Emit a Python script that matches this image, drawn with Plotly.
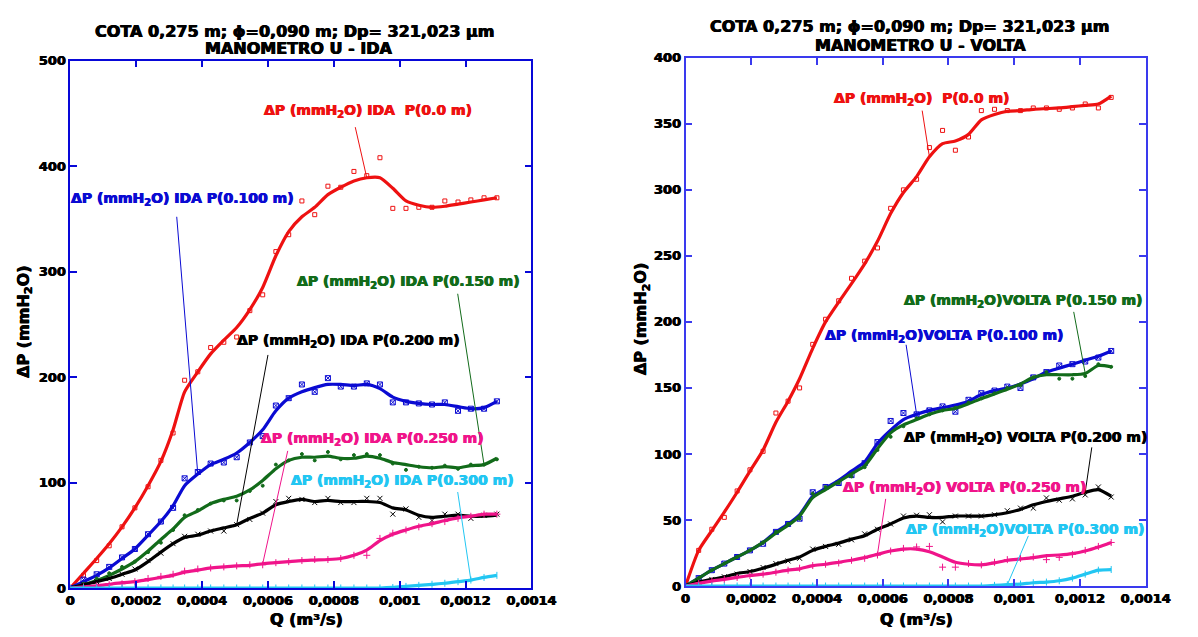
import plotly.graph_objects as go

# Flow rate Q (m³/s) at each reading
Q = [0, 0.00004, 0.00008, 0.000118, 0.000157, 0.000196, 0.000236, 0.000275, 0.000312, 0.000347,
     0.000387, 0.000426, 0.000466, 0.000505, 0.000545, 0.000584, 0.000624, 0.000663, 0.000703, 0.000742,
     0.000782, 0.000821, 0.000861, 0.0009, 0.00094, 0.000979, 0.001019, 0.001058, 0.001098, 0.001137,
     0.001177, 0.001216, 0.001256, 0.001295]

# ---- IDA (increasing flow): measured points and smoothed curves, ΔP in mmH2O ----
ida_p000_pts = [0, 12, 26, 40, 58, 76, 96, 121, 147, 197, 205, 228, 233, 238, 263, 278, 319, 335, 367, 354,
                381, 380, 395, 391, 408, 360, 360, 361, 361, 367, 366, 368, 370, 370]
ida_p000_fit = [0, 14, 28, 42, 58, 76, 97, 120, 150, 186, 205, 222, 235, 247, 264, 285, 315, 338, 352, 361,
                373, 380, 386, 389, 389, 379, 367, 363, 361, 362, 364, 366, 368, 370]
ida_p100_pts = [0, 8, 13, 20, 29, 37, 51, 63, 76, 104, 110, 118, 119, 124, 138, 144, 173, 180, 193, 186,
                199, 191, 191, 194, 193, 176, 176, 175, 174, 176, 168, 170, 170, 177]
ida_p100_fit = [0, 6, 12, 19, 28, 37, 50, 63, 78, 97, 108, 117, 122, 128, 138, 150, 168, 180, 186, 190,
                193, 193, 192, 193, 189, 181, 177, 175, 174, 174, 172, 170, 171, 177]
ida_p150_pts = [0, 4, 9, 14, 20, 25, 34, 43, 55, 69, 74, 80, 83, 83, 92, 97, 117, 121, 127, 121,
                129, 122, 126, 127, 126, 118, 112, 115, 114, 116, 113, 117, 117, 122]
ida_p150_fit = [0, 3, 7, 12, 18, 25, 35, 46, 56, 67, 73, 80, 84, 87, 93, 102, 113, 121, 124, 124,
                125, 123, 123, 125, 123, 119, 117, 115, 114, 115, 114, 116, 117, 123]
ida_p200_pts = [0, 3, 6, 9, 13, 18, 26, 33, 42, 49, 51, 54, 54, 60, 65, 71, 82, 85, 84, 81,
                85, 81, 81, 85, 85, 70, 75, 67, 64, 70, 70, 66, 69, 70]
ida_p200_fit = [0, 3, 6, 9, 13, 17, 25, 34, 42, 48, 50, 54, 57, 60, 66, 71, 79, 82, 84, 82,
                83, 82, 82, 82, 81, 76, 74, 69, 67, 68, 69, 68, 68, 69]
ida_p250_pts = [0, 1, 2, 3, 4, 6, 9, 11, 13, 16, 18, 19, 20, 21, 22, 22, 24, 25, 26, 27,
                27, 28, 31, 31, 47, 52, 55, 58, 61, 63, 66, 68, 70, 70]
ida_p250_fit = [0, 1, 2, 3.5, 5, 6, 8, 10, 12, 15, 17, 19, 20, 21, 21.5, 23, 24, 25, 26, 26.5,
                27, 28, 31, 36, 45, 51, 55, 58.5, 61, 64, 66.5, 68, 70, 70]
ida_p300_pts = [0, 0, 0, 0, 0, 0, 0, 0, 0, 0, 0, 0, 0, 0, 0, 0, 0, 0, 0, 0,
                0, 0, 0, 0, 0, 0.5, 1.5, 2.5, 3.5, 4.5, 6, 7.5, 10, 12]
ida_p300_fit = [0, 0, 0, 0, 0, 0, 0, 0, 0, 0, 0, 0, 0, 0, 0, 0, 0, 0, 0, 0,
                0, 0, 0, 0, 0, 0.5, 1.5, 2.5, 3.5, 4.5, 6, 7.5, 10, 12]

# ---- VOLTA (decreasing flow) ----
vol_p000_pts = [0, 27, 43, 52, 72, 88, 102, 131, 140, 150, 183, 202, 216, 233, 246, 256, 286, 300, 308, 332,
                345, 330, 340, 360, 361, 360, 360, 362, 362, 361, 362, 365, 362, 370]
vol_p000_fit = [0, 27, 42, 56, 71, 87, 103, 124, 140, 157, 180, 200, 215, 229, 244, 261, 282, 298, 310, 325,
                335, 337, 342, 353, 357, 359.5, 360, 361, 361.5, 362, 363, 364, 365, 371]
vol_p100_pts = [0, 6, 12, 17, 22, 27, 32, 41, 47, 51, 71, 75, 78, 84, 93, 109, 125, 131, 130, 133,
                136, 132, 141, 146, 148, 151, 150, 158, 162, 167, 168, 170, 173, 178]
vol_p100_fit = [0, 6, 12, 17, 22, 27, 33, 41, 47, 54, 68, 74, 80, 87, 94, 108, 118, 126, 130, 133,
                135, 137, 140, 145, 148, 150, 153, 157, 162, 165, 168, 171, 174, 178]
vol_p150_pts = [0, 6, 12, 17, 22, 27, 33, 41, 47, 51, 70, 75, 78, 83, 90, 103, 113, 121, 127, 130,
                133, 135, 139, 142, 146, 150, 152, 158, 162, 157, 157, 159, 168, 166]
vol_p150_fit = [0, 6, 12, 17, 22, 27, 33, 40, 46, 53, 67, 73, 79, 85, 91, 104, 116, 122, 126, 130,
                133, 134.5, 138, 142, 145.5, 149, 153, 158, 160, 160, 160, 161, 167, 166]
vol_p200_pts = [0, 3, 5, 7, 9, 11, 14, 17, 19, 21, 28, 30, 31.6, 35, 39.5, 43, 47, 53, 53.6, 54,
                48.6, 53, 53, 53, 54, 57, 59, 59, 66.7, 65, 66, 69, 75, 67.4]
vol_p200_fit = [0, 3, 5, 7, 9.5, 11, 13.5, 16.5, 19.5, 22, 27, 30, 32.5, 35.5, 38, 43, 47, 51.5, 53, 52,
                52, 53, 53, 53, 54, 55.5, 58, 61.5, 64, 66, 68, 71, 73, 68]
vol_p250_pts = [0, 2, 3.7, 5, 6.5, 8, 9, 10.5, 12, 13.5, 15.5, 16.5, 17.5, 19.5, 21, 23.5, 26.5, 28.5, 29.6, 30,
                14.3, 14.3, 17, 16, 18, 20, 21, 22, 20, 21.7, 24, 27, 30, 33]
vol_p250_fit = [0, 2, 3.7, 5, 6.5, 8, 9, 10.5, 12, 13, 15.5, 16.5, 18, 19.5, 21.5, 24, 26.5, 28, 28, 26,
                22, 18, 16.5, 16, 17.5, 19.5, 20.5, 21.5, 23, 23.5, 24.5, 26.5, 29.5, 33]
vol_p300_pts = [0, 0, 0, 0, 0, 0, 0, 0, 0, 0, 0, 0, 0, 0, 0, 0, 0, 0, 0, 0,
                0, 0, 0, 0, 0.5, 1, 1.5, 2.5, 3, 4, 6, 9, 12, 12.5]
vol_p300_fit = [0, 0, 0, 0, 0, 0, 0, 0, 0, 0, 0, 0, 0, 0, 0, 0, 0, 0, 0, 0,
                0, 0, 0, 0, 0.5, 1, 1.5, 2.5, 3, 4, 6, 9, 12, 12.5]

x_tickvals = [0, 0.0002, 0.0004, 0.0006, 0.0008, 0.001, 0.0012, 0.0014]
x_ticktext = ["0", "0,0002", "0,0004", "0,0006", "0,0008", "0,001", "0,0012", "0,0014"]

RED, BLUE, GREEN, BLACK, PINK, CYAN = "#ee1111", "#0a0ad2", "#126b1a", "#000000", "#f0148a", "#22c6f2"
FONT = "DejaVu Sans"
W, H = 1198, 637


def heavy(color):
    # thin same-coloured halo to thicken bold glyphs
    return f"0.45px 0 0 {color}, -0.45px 0 0 {color}"


fig = go.Figure()


def add_series(pts, fit, color, symbol, msize, xa, ya):
    fig.add_trace(go.Scatter(x=Q, y=pts, mode="markers", xaxis=xa, yaxis=ya,
                             marker=dict(symbol=symbol, size=msize, color=color,
                                         line=dict(color=color, width=1))))
    fig.add_trace(go.Scatter(x=Q, y=fit, mode="lines", xaxis=xa, yaxis=ya,
                             line=dict(color=color, width=3.2, shape="spline", smoothing=0.6)))


left = [(ida_p000_pts, ida_p000_fit, RED, "square-open", 4),
        (ida_p100_pts, ida_p100_fit, BLUE, "square-x-open", 5),
        (ida_p150_pts, ida_p150_fit, GREEN, "circle", 3),
        (ida_p200_pts, ida_p200_fit, BLACK, "x-thin-open", 5),
        (ida_p250_pts, ida_p250_fit, PINK, "cross-thin-open", 5),
        (ida_p300_pts, ida_p300_fit, CYAN, "line-ns-open", 5)]
right = [(vol_p000_pts, vol_p000_fit, RED, "square-open", 4),
         (vol_p100_pts, vol_p100_fit, BLUE, "square-x-open", 5),
         (vol_p150_pts, vol_p150_fit, GREEN, "circle", 3),
         (vol_p200_pts, vol_p200_fit, BLACK, "x-thin-open", 5),
         (vol_p250_pts, vol_p250_fit, PINK, "cross-thin-open", 5),
         (vol_p300_pts, vol_p300_fit, CYAN, "line-ns-open", 5)]
for p, f, c, s, m in left:
    add_series(p, f, c, s, m, "x", "y")
for p, f, c, s, m in right:
    add_series(p, f, c, s, m, "x2", "y2")

annotations = []
shapes = []


def label(xa, ya, x, y, text, color):
    annotations.append(dict(xref=xa, yref=ya, x=x, y=y, text=text, showarrow=False,
                            xanchor="center", yanchor="middle",
                            font=dict(family=FONT, size=14, color=color, weight="bold",
                                      shadow=heavy(color))))


def leader(xa, ya, x0, y0, x1, y1, color):
    shapes.append(dict(type="line", xref=xa, yref=ya, x0=x0, y0=y0, x1=x1, y1=y1,
                       line=dict(color=color, width=1)))


H2O = "ΔP (mmH<sub>2</sub>O)"
# IDA labels and leader lines
label("x", "y", 0.000904, 452, H2O + " IDA&nbsp; P(0.0 m)", RED)
leader("x", "y", 0.000865, 437, Q[23], ida_p000_fit[23], RED)
label("x", "y", 0.00034, 369, H2O + " IDA P(0.100 m)", BLUE)
leader("x", "y", 0.000323, 352, Q[10], ida_p100_fit[10], BLUE)
label("x", "y", 0.001027, 290, H2O + " IDA P(0.150 m)", GREEN)
leader("x", "y", 0.001176, 279, Q[32], ida_p150_fit[32], GREEN)
label("x", "y", 0.000843, 234, H2O + " IDA P(0.200 m)", BLACK)
leader("x", "y", 0.0006, 221, Q[13], ida_p200_fit[13], BLACK)
label("x", "y", 0.000917, 141, H2O + " IDA P(0.250 m)", PINK)
leader("x", "y", 0.00066, 130, Q[15], ida_p250_fit[15], PINK)
label("x", "y", 0.001007, 101, H2O + " IDA P(0.300 m)", CYAN)
leader("x", "y", 0.001176, 91, Q[31], ida_p300_fit[31], CYAN)

# VOLTA labels and leader lines
label("x2", "y2", 0.000719, 369, H2O + "&nbsp; P(0.0 m)", RED)
leader("x2", "y2", 0.00072, 360, Q[19], vol_p000_fit[19], RED)
label("x2", "y2", 0.001026, 216, H2O + "VOLTA P(0.150 m)", GREEN)
leader("x2", "y2", 0.001181, 207.6, Q[31], vol_p150_fit[31], GREEN)
label("x2", "y2", 0.000785, 189, H2O + "VOLTA P(0.100 m)", BLUE)
leader("x2", "y2", 0.000671, 182.7, Q[18], vol_p100_fit[18], BLUE)
label("x2", "y2", 0.001033, 112, H2O + " VOLTA P(0.200 m)", BLACK)
leader("x2", "y2", 0.001236, 105, Q[31], vol_p200_fit[31], BLACK)
label("x2", "y2", 0.000849, 74, H2O + " VOLTA P(0.250 m)", PINK)
leader("x2", "y2", 0.000609, 66, Q[15], vol_p250_fit[15], PINK)
label("x2", "y2", 0.001033, 42.7, H2O + "VOLTA P(0.300 m)", CYAN)
leader("x2", "y2", 0.001043, 38, Q[25], vol_p300_fit[25], CYAN)


def paper_text(px, py, text, size, angle=0):
    annotations.append(dict(xref="paper", yref="paper", x=px / W, y=1 - py / H, text=text,
                            showarrow=False, xanchor="center", yanchor="middle", textangle=angle,
                            font=dict(family=FONT, size=size, color="black", weight="bold",
                                      shadow=heavy("black"))))


TITLE1 = "COTA 0,275 m; ϕ=0,090 m; Dp= 321,023 μm"
paper_text(297, 25, TITLE1, 16)
paper_text(302, 42, "MANOMETRO U - IDA", 16)
paper_text(928, 20, TITLE1, 16)
paper_text(939, 39, "MANOMETRO U - VOLTA", 16)
paper_text(309, 627, "Q (m³/s)", 16)
paper_text(935, 627, "Q (m³/s)", 16)
paper_text(20, 322, "ΔP (mmH<sub>2</sub>O)", 16, -90)
paper_text(653, 320, "ΔP (mmH<sub>2</sub>O)", 16, -90)

tickfont = dict(family=FONT, size=13, color="black", weight="bold", shadow=heavy("black"))


def axis_style(color, **kw):
    d = dict(showline=True, linecolor=color, linewidth=1.5, mirror="ticks", ticks="inside",
             ticklen=7, tickwidth=1.5, tickcolor=color, showgrid=False, zeroline=False,
             tickfont=tickfont)
    d.update(kw)
    return d


LCOL, RCOL = "#0808d8", "#3a3aee"
fig.update_layout(
    width=W, height=H, margin=dict(l=0, r=0, t=0, b=0),
    paper_bgcolor="white", plot_bgcolor="white", showlegend=False,
    xaxis=axis_style(LCOL, domain=[67 / W, 540 / W], anchor="y", range=[0, 0.0014],
                     tickvals=x_tickvals, ticktext=x_ticktext),
    yaxis=axis_style(LCOL, domain=[1 - 595 / H, 1 - 55 / H], anchor="x", range=[0, 500], dtick=100),
    xaxis2=axis_style(RCOL, domain=[698 / W, 1170 / W], anchor="y2", range=[0, 0.0014],
                      tickvals=x_tickvals, ticktext=x_ticktext),
    yaxis2=axis_style(RCOL, domain=[1 - 593 / H, 1 - 52 / H], anchor="x2", range=[0, 400], dtick=50),
    annotations=annotations,
    shapes=shapes,
)

fig.write_html("out.html")
